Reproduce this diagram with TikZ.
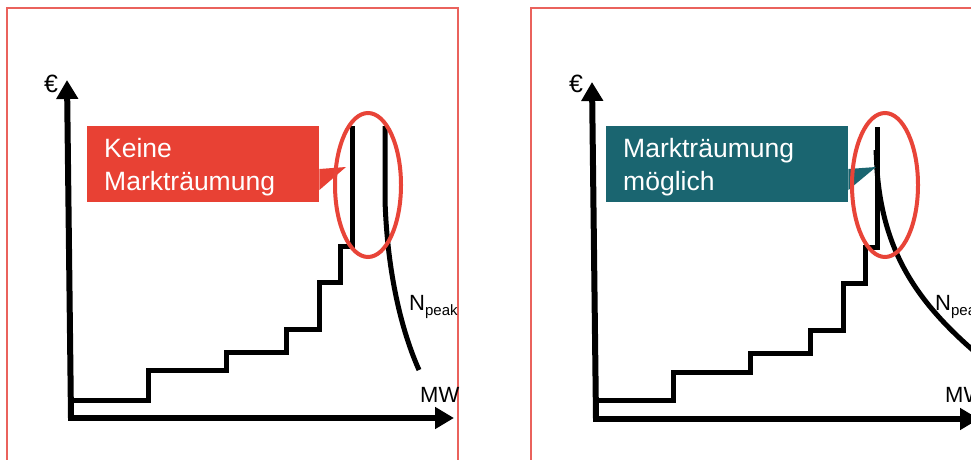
\documentclass[tikz,border=0pt]{standalone}
\usepackage{fontspec}
\setmainfont{Liberation Sans}
\usetikzlibrary{arrows.meta,calc}
\definecolor{boxred}{RGB}{232,65,52}
\definecolor{ellred}{RGB}{232,68,56}
\definecolor{framered}{RGB}{234,98,92}
\definecolor{teal}{RGB}{26,101,112}
\tikzset{
  frame/.style={draw=framered,line width=1.3pt},
  axis/.style={line width=6pt,-{Triangle[length=19pt,width=21pt]}},
  curveline/.style={line width=5pt,line join=miter},
  peakring/.style={draw=ellred,line width=4pt},
  callout/.style={draw=none,inner sep=0pt},
  calltext/.style={anchor=base west,inner sep=0pt,text=white,font=\fontsize{26.5pt}{33pt}\selectfont},
  lbl/.style={inner sep=0pt,font=\fontsize{22pt}{25pt}\selectfont},
}
\begin{document}
\begin{tikzpicture}[x=1pt,y=-1pt]
\useasboundingbox (0,0) rectangle (971,460);
\clip (0,0) rectangle (971,460);
\fill[white] (0,0) rectangle (971,460);
% frames
\draw[frame] (7,470) -- (7,8) -- (458,8) -- (458,470);
\draw[frame] (531,470) -- (531,8) -- (1000,8);

% ===== left panel =====
\coordinate (LO) at (71,418);
\coordinate (LY) at (67,80);
\coordinate (LX) at (454,418);
\draw[axis] (LO) -- (LY);
\draw[axis] ($(LO)+(-3,0)$) -- (LX);
\node[lbl,anchor=center,font=\fontsize{25pt}{28pt}\selectfont] (Leuro) at (51,84) {€};
\node[lbl,anchor=base west] (LMW) at (420,402) {MW};
\node[lbl,anchor=base west] (LN) at (409,310) {N\raisebox{-5pt}{\fontsize{15pt}{16pt}\selectfont peak}};
\draw[curveline] (73,400) -- (148,400) -- (148,370) -- (226,370) -- (226,352) -- (286,352) -- (286,329) -- (319,329) -- (319,282) -- (340,282) -- (340,246) -- (352,246) -- (352,126);
\draw[curveline] (385,126) -- (385,200) .. controls (387,265) and (399,325) .. (419,370);
\node[callout,fill=boxred,anchor=north west,minimum width=232pt,minimum height=76pt] (Lbox) at (87,126) {};
\coordinate (Ltip) at (346,167);
\fill[boxred] (Lbox.north east |- 0,169) -- (Ltip) -- (Lbox.north east |- 0,190) -- cycle;
\node[calltext] (Lt1) at (104,157) {Keine};
\node[calltext] (Lt2) at (104,190) {Markträumung};
\draw[peakring] (368,185) ellipse [x radius=33, y radius=72];

% ===== right panel =====
\coordinate (RO) at (596,419);
\coordinate (RY) at (592,82);
\coordinate (RX) at (979,419);
\draw[axis] (RO) -- (RY);
\draw[axis] ($(RO)+(-3,0)$) -- (RX);
\node[lbl,anchor=center,font=\fontsize{25pt}{28pt}\selectfont] (Reuro) at (576,84) {€};
\node[lbl,anchor=base west] (RMW) at (945,402) {MW};
\node[lbl,anchor=base west] (RN) at (935,310) {N\raisebox{-5pt}{\fontsize{15pt}{16pt}\selectfont peak}};
\draw[curveline] (598,400) -- (673,400) -- (673,372) -- (750,372) -- (750,353) -- (810,353) -- (810,330) -- (843,330) -- (843,283) -- (865,283) -- (865,247) -- (877,247) -- (877,127);
\draw[curveline] (876,150) -- (877,170) .. controls (883,250) and (915,300) .. (975,352) -- (990,362);
\node[callout,fill=teal,anchor=north west,minimum width=242pt,minimum height=76pt] (Rbox) at (606,126) {};
\coordinate (Rtip) at (876,167);
\fill[teal] (Rbox.north east |- 0,169) -- (Rtip) -- (Rbox.north east |- 0,190) -- cycle;
\node[calltext] (Rt1) at (623,157) {Markträumung};
\node[calltext] (Rt2) at (623,190) {möglich};
\draw[peakring] (885,185) ellipse [x radius=33, y radius=72];
\end{tikzpicture}
\end{document}
